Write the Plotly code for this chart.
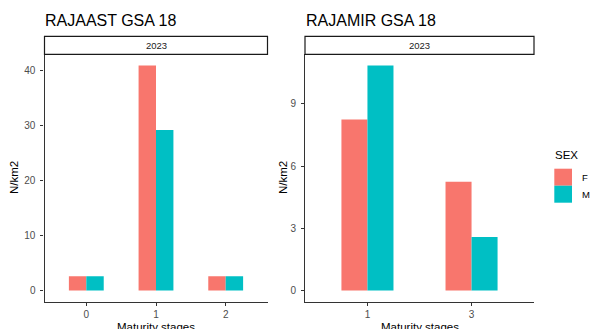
import plotly.graph_objects as go

# Data
left_stages = ["0", "1", "2"]
left_F = [2.6, 40.9, 2.6]
left_M = [2.6, 29.2, 2.6]

right_stages = ["1", "3"]
right_F = [8.25, 5.25]
right_M = [10.85, 2.58]

sexes = ["F", "M"]
colors = {"F": "#F8766D", "M": "#00BFC4"}

W, H = 594, 329
def px_x(x):
    return x / W
def px_y(y):
    return 1 - y / H

fig = go.Figure()
fig.add_trace(go.Bar(x=left_stages, y=left_F, marker_color=colors["F"], marker_line_width=0,
                     xaxis="x", yaxis="y", name="F", showlegend=False, offsetgroup="F"))
fig.add_trace(go.Bar(x=left_stages, y=left_M, marker_color=colors["M"], marker_line_width=0,
                     xaxis="x", yaxis="y", name="M", showlegend=False, offsetgroup="M"))
fig.add_trace(go.Bar(x=right_stages, y=right_F, marker_color=colors["F"], marker_line_width=0,
                     xaxis="x2", yaxis="y2", name="F", showlegend=False, offsetgroup="F"))
fig.add_trace(go.Bar(x=right_stages, y=right_M, marker_color=colors["M"], marker_line_width=0,
                     xaxis="x2", yaxis="y2", name="M", showlegend=False, offsetgroup="M"))

panel_top, panel_bot = 54.3, 301.7
ydom = [px_y(panel_bot), px_y(panel_top)]
lx = [44.5, 267.5]
rx = [305, 534]

lmax = max(left_F + left_M)
rmax = max(right_F + right_M)

axis_common = dict(showline=True, linecolor="#333333", linewidth=1.1, ticks="outside",
                   ticklen=3, tickcolor="#333333", tickwidth=1,
                   tickfont=dict(family="Liberation Sans, Arial", size=10, color="#4D4D4D"),
                   showgrid=False, zeroline=False, fixedrange=True)

fig.update_layout(
    width=W, height=H, margin=dict(l=0, r=0, t=0, b=0),
    plot_bgcolor="white", paper_bgcolor="white",
    barmode="group", bargap=0.5, bargroupgap=0,
    xaxis=dict(domain=[px_x(lx[0]), px_x(lx[1])], anchor="y", type="category",
               range=[-0.6, len(left_stages) - 0.4], **axis_common),
    yaxis=dict(domain=ydom, anchor="x", range=[-0.05 * lmax, 1.05 * lmax],
               tickvals=[0, 10, 20, 30, 40], ticklabelstandoff=3, **axis_common),
    xaxis2=dict(domain=[px_x(rx[0]), px_x(rx[1])], anchor="y2", type="category",
                range=[-0.6, len(right_stages) - 0.4], **axis_common),
    yaxis2=dict(domain=ydom, anchor="x2", range=[-0.05 * rmax, 1.05 * rmax],
                tickvals=[0, 3, 6, 9], ticklabelstandoff=3, **axis_common),
    showlegend=False,
)

font = "Liberation Sans, Arial"
shapes = []
annotations = []
# Strips
for (x0, x1) in (lx, rx):
    shapes.append(dict(type="rect", xref="paper", yref="paper",
                       x0=px_x(x0), x1=px_x(x1), y0=px_y(panel_top), y1=px_y(36.3),
                       line=dict(color="#1A1A1A", width=1.2), fillcolor="white"))
    annotations.append(dict(text="2023", xref="paper", yref="paper",
                            x=px_x((x0 + x1) / 2), y=px_y(45.3), showarrow=False,
                            xanchor="center", yanchor="middle",
                            font=dict(family=font, size=9.5, color="#1A1A1A")))
# Titles
annotations.append(dict(text="RAJAAST GSA 18", xref="paper", yref="paper", x=px_x(43), y=px_y(20),
                        showarrow=False, xanchor="left", yanchor="middle",
                        font=dict(family=font, size=16, color="black")))
annotations.append(dict(text="RAJAMIR GSA 18", xref="paper", yref="paper", x=px_x(304), y=px_y(20),
                        showarrow=False, xanchor="left", yanchor="middle",
                        font=dict(family=font, size=16, color="black")))
# Axis titles
for xc in ((lx[0] + lx[1]) / 2, (rx[0] + rx[1]) / 2):
    annotations.append(dict(text="Maturity stages", xref="paper", yref="paper", x=px_x(xc), y=px_y(327),
                            showarrow=False, xanchor="center", yanchor="middle",
                            font=dict(family=font, size=11.5, color="black")))
for xc in (14, 283):
    annotations.append(dict(text="N/km2", xref="paper", yref="paper", x=px_x(xc),
                            y=px_y((panel_top + panel_bot) / 2), textangle=-90,
                            showarrow=False, xanchor="center", yanchor="middle",
                            font=dict(family=font, size=11.5, color="black")))
# Legend
annotations.append(dict(text="SEX", xref="paper", yref="paper", x=px_x(553), y=px_y(155),
                        showarrow=False, xanchor="left", yanchor="middle",
                        font=dict(family=font, size=11.5, color="black")))
for i, s in enumerate(sexes):
    y0 = 168.7 + i * 17
    shapes.append(dict(type="rect", xref="paper", yref="paper",
                       x0=px_x(554.3), x1=px_x(572), y0=px_y(y0 + 17), y1=px_y(y0),
                       line=dict(width=0), fillcolor=colors[s]))
    annotations.append(dict(text=s, xref="paper", yref="paper", x=px_x(580), y=px_y(y0 + 8.5),
                            showarrow=False, xanchor="left", yanchor="middle",
                            font=dict(family=font, size=9.5, color="black")))

fig.update_layout(shapes=shapes, annotations=annotations)
fig.write_html("out.html", config={"displayModeBar": False},
               post_script="document.body.style.margin='0';document.body.style.overflow='hidden';")
